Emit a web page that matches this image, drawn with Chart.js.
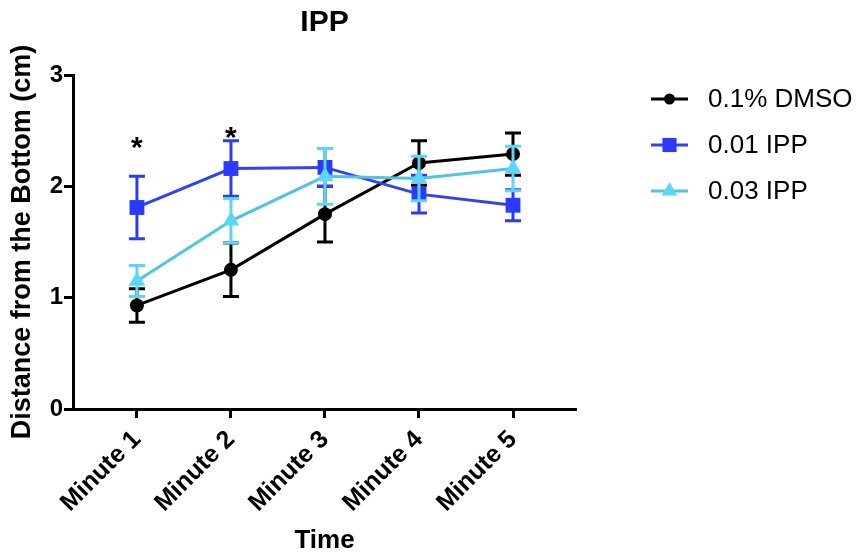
<!DOCTYPE html>
<html>
<head>
<meta charset="utf-8">
<title>IPP</title>
<script src="https://cdn.jsdelivr.net/npm/chart.js@4.4.1/dist/chart.umd.min.js"></script>
<style>
  html, body { margin: 0; padding: 0; background: #fff; }
  #wrap { width: 861px; height: 554px; }
</style>
</head>
<body>
<div id="wrap"><canvas id="ippChart" width="861" height="554"></canvas></div>
<script>
// --- data ---
const categories = ["Minute 1", "Minute 2", "Minute 3", "Minute 4", "Minute 5"];

const dmsoMean = [0.93, 1.25, 1.75, 2.21, 2.29];
const dmsoErr  = [0.15, 0.24, 0.25, 0.20, 0.19];

const ipp001Mean = [1.81, 2.16, 2.17, 1.93, 1.83];
const ipp001Err  = [0.28, 0.25, 0.17, 0.17, 0.14];

const ipp003Mean = [1.15, 1.69, 2.09, 2.07, 2.16];
const ipp003Err  = [0.14, 0.20, 0.25, 0.20, 0.20];

const yTicks = [0, 1, 2, 3];

// significance marks (category index, value)
const starIndex = [0, 1];
const starValue = [2.42, 2.51];

const FONT = '"Liberation Sans", Arial, Helvetica, sans-serif';

function toPoints(means) {
  return means.map((v, i) => ({ x: i + 1, y: v }));
}

// --- error bars, drawn under each dataset's markers ---
const errorBars = {
  id: "errorBars",
  beforeDatasetDraw(chart, args) {
    const ds = chart.data.datasets[args.index];
    if (!ds.errors) return;
    const xs = chart.scales.x, ys = chart.scales.y;
    const ctx = chart.ctx;
    ctx.save();
    ctx.strokeStyle = ds.pointBackgroundColor;
    ctx.lineWidth = 3;
    ctx.lineCap = "butt";
    ds.data.forEach((p, i) => {
      const px = xs.getPixelForValue(p.x);
      const top = ys.getPixelForValue(p.y + ds.errors[i]);
      const bot = ys.getPixelForValue(p.y - ds.errors[i]);
      ctx.beginPath();
      ctx.moveTo(px, top);
      ctx.lineTo(px, bot);
      ctx.moveTo(px - 8, top);
      ctx.lineTo(px + 8, top);
      ctx.moveTo(px - 8, bot);
      ctx.lineTo(px + 8, bot);
      ctx.stroke();
    });
    ctx.restore();
  }
};

// --- title, asterisks, legend ---
const extras = {
  id: "extras",
  afterDraw(chart) {
    const ctx = chart.ctx;
    const area = chart.chartArea;
    const xs = chart.scales.x, ys = chart.scales.y;
    ctx.save();

    // title
    ctx.fillStyle = "#000";
    ctx.font = "bold 30px " + FONT;
    ctx.textAlign = "center";
    ctx.textBaseline = "middle";
    ctx.fillText("IPP", (area.left + area.right) / 2, 23);

    // asterisks
    ctx.font = "bold 30px " + FONT;
    ctx.textBaseline = "alphabetic";
    starIndex.forEach((idx, k) => {
      const px = xs.getPixelForValue(idx + 1);
      const py = ys.getPixelForValue(starValue[k]);
      ctx.fillText("*", px, py + 0.57 * 30);
    });

    // legend
    ctx.font = "26px " + FONT;
    ctx.textAlign = "left";
    ctx.textBaseline = "middle";
    chart.data.datasets.forEach((ds, i) => {
      const y = 99 + i * 46;
      ctx.strokeStyle = ds.borderColor;
      ctx.lineWidth = 3;
      ctx.beginPath();
      ctx.moveTo(651, y);
      ctx.lineTo(688, y);
      ctx.stroke();
      ctx.fillStyle = ds.pointBackgroundColor;
      Chart.helpers.drawPoint(ctx, {
        pointStyle: ds.pointStyle,
        radius: ds.legendRadius,
        rotation: 0,
        borderWidth: 0
      }, 669.5, y);
      ctx.fillStyle = "#000";
      ctx.fillText(ds.label, 708, y + 1);
    });
    ctx.restore();
  }
};

const ctx = document.getElementById("ippChart").getContext("2d");

const ippChart = new Chart(ctx, {
  type: "line",
  data: {
    datasets: [
      {
        label: "0.1% DMSO",
        data: toPoints(dmsoMean),
        errors: dmsoErr,
        borderColor: "#000000",
        pointBackgroundColor: "#000000",
        pointStyle: "circle",
        pointRadius: 7,
        legendRadius: 5.5,
        order: 3
      },
      {
        label: "0.01 IPP",
        data: toPoints(ipp001Mean),
        errors: ipp001Err,
        borderColor: "#3043f2",
        pointBackgroundColor: "#2a3bff",
        pointStyle: "rect",
        pointRadius: 10.5,
        legendRadius: 10,
        order: 2
      },
      {
        label: "0.03 IPP",
        data: toPoints(ipp003Mean),
        errors: ipp003Err,
        borderColor: "#4fc4e3",
        pointBackgroundColor: "#5ad6f8",
        pointStyle: "triangle",
        pointRadius: 9.5,
        legendRadius: 9,
        order: 1
      }
    ]
  },
  options: {
    responsive: false,
    animation: false,
    datasets: {
      line: {
        borderWidth: 3,
        tension: 0,
        pointBorderWidth: 0,
        clip: false
      }
    },
    layout: { padding: { top: 75, right: 285, left: 0, bottom: 0 } },
    plugins: {
      legend: { display: false },
      title: { display: false },
      tooltip: { enabled: false }
    },
    scales: {
      x: {
        type: "linear",
        min: 0.32,
        max: 5.67,
        afterBuildTicks(scale) {
          scale.ticks = categories.map((c, i) => ({ value: i + 1 }));
        },
        afterFit(scale) { scale.height = 145; },
        ticks: {
          autoSkip: false,
          minRotation: 45,
          maxRotation: 45,
          padding: 7,
          color: "#000",
          font: { family: FONT, size: 25, weight: "bold" },
          callback: (v) => categories[v - 1]
        },
        grid: {
          drawOnChartArea: false,
          drawTicks: true,
          tickLength: 9,
          tickWidth: 3,
          color: "#000"
        },
        border: { display: true, width: 3, color: "#000" },
        title: {
          display: true,
          text: "Time",
          color: "#000",
          font: { family: FONT, size: 26, weight: "bold", lineHeight: 1 },
          padding: { top: 0, bottom: 0 }
        }
      },
      y: {
        min: 0,
        max: 3,
        afterBuildTicks(scale) {
          scale.ticks = yTicks.map((v) => ({ value: v }));
        },
        afterFit(scale) { scale.width = 73; },
        ticks: {
          padding: 1,
          color: "#000",
          font: { family: FONT, size: 24, weight: "bold" }
        },
        grid: {
          drawOnChartArea: false,
          drawTicks: true,
          tickLength: 9,
          tickWidth: 3,
          color: "#000"
        },
        border: { display: true, width: 3, color: "#000" },
        title: {
          display: true,
          text: "Distance from the Bottom (cm)",
          color: "#000",
          font: { family: FONT, size: 27, weight: "bold", lineHeight: 1 },
          padding: { top: 9, bottom: 0 }
        }
      }
    }
  },
  plugins: [errorBars, extras]
});
</script>
</body>
</html>
